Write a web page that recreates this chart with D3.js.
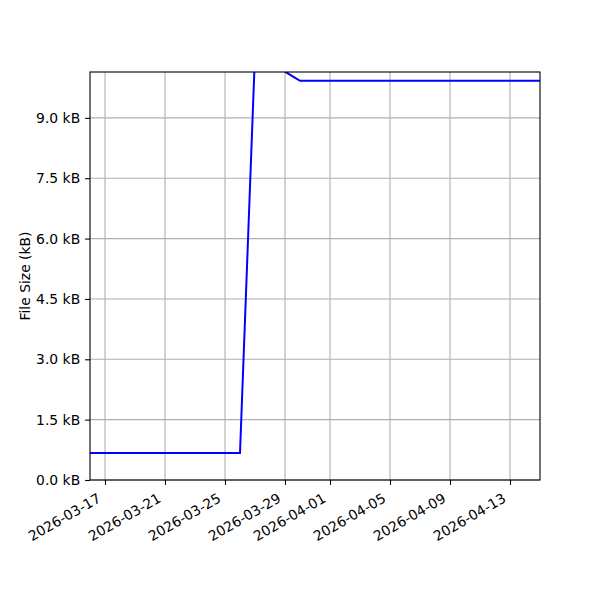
<!DOCTYPE html>
<html>
<head>
<meta charset="utf-8">
<script src="https://cdn.jsdelivr.net/npm/d3@7"></script>
<style>
  body { margin: 0; background: #fff; }
  svg, svg text { font-family: "DejaVu Sans", sans-serif; }
  .grid line { stroke: #b0b0b0; stroke-width: 1.1; }
</style>
</head>
<body>
<div id="chart"></div>
<script>
// data (kB per day)
var dates = ["2026-03-16","2026-03-17","2026-03-18","2026-03-19","2026-03-20","2026-03-21",
  "2026-03-22","2026-03-23","2026-03-24","2026-03-25","2026-03-26","2026-03-27","2026-03-28",
  "2026-03-29","2026-03-30","2026-03-31","2026-04-01","2026-04-02","2026-04-03","2026-04-04",
  "2026-04-05","2026-04-06","2026-04-07","2026-04-08","2026-04-09","2026-04-10","2026-04-11",
  "2026-04-12","2026-04-13","2026-04-14","2026-04-15"];
var sizes = [0.67,0.67,0.67,0.67,0.67,0.67,0.67,0.67,0.67,0.67,0.67,10.6,10.5,
  10.15,9.92,9.92,9.92,9.92,9.92,9.92,9.92,9.92,9.92,9.92,9.92,9.92,9.92,9.92,9.92,9.92,9.92];
var xTicks = ["2026-03-17","2026-03-21","2026-03-25","2026-03-29","2026-04-01","2026-04-05","2026-04-09","2026-04-13"];
var yTicks = [0, 1.5, 3.0, 4.5, 6.0, 7.5, 9.0];

var width = 600, height = 600;
var margin = {top: 72, right: 60, bottom: 120, left: 90};
var fontSize = 13.9;
var parse = d3.utcParse("%Y-%m-%d");

var points = dates.map(function(d, i) { return {date: parse(d), value: sizes[i]}; });

var svg = d3.select("#chart").append("svg")
  .attr("width", width)
  .attr("height", height);

var x = d3.scaleUtc()
  .domain([parse("2026-03-16"), parse("2026-04-15")])
  .range([margin.left, width - margin.right]);
var y = d3.scaleLinear()
  .domain([0, 10.14])
  .range([height - margin.bottom, margin.top]);

svg.append("defs").append("clipPath").attr("id", "clip")
  .append("rect")
  .attr("x", margin.left).attr("y", margin.top)
  .attr("width", width - margin.left - margin.right)
  .attr("height", height - margin.top - margin.bottom);

// grid
var grid = svg.append("g").attr("class", "grid");
grid.selectAll(".gx").data(xTicks).enter().append("line")
  .attr("x1", d => x(parse(d))).attr("x2", d => x(parse(d)))
  .attr("y1", margin.top).attr("y2", height - margin.bottom);
grid.selectAll(".gy").data(yTicks).enter().append("line")
  .attr("x1", margin.left).attr("x2", width - margin.right)
  .attr("y1", d => y(d)).attr("y2", d => y(d));

// line
var line = d3.line().x(d => x(d.date)).y(d => y(d.value));
svg.append("path")
  .datum(points)
  .attr("clip-path", "url(#clip)")
  .attr("fill", "none")
  .attr("stroke", "#0000ff")
  .attr("stroke-width", 2)
  .attr("d", line);

// axes
var xAxis = svg.append("g")
  .attr("transform", "translate(0," + (height - margin.bottom) + ")")
  .call(d3.axisBottom(x).tickValues(xTicks.map(parse)).tickFormat(d3.utcFormat("%Y-%m-%d")).tickSizeOuter(0).tickSize(4.9).tickPadding(4.9));
// matplotlib-style: rotated 30 degrees, right edge of the box under the tick
xAxis.selectAll("text")
  .attr("text-anchor", "end")
  .attr("dy", "-0.24em")
  .attr("y", 0)
  .attr("transform", "translate(-2,24) rotate(-30)");

var yAxis = svg.append("g")
  .attr("transform", "translate(" + margin.left + ",0)")
  .call(d3.axisLeft(y).tickValues(yTicks).tickFormat(d => d3.format(".1f")(d) + " kB").tickSizeOuter(0).tickSize(4.9).tickPadding(4.9));

[xAxis, yAxis].forEach(function(a) {
  a.attr("font-family", "DejaVu Sans").attr("font-size", fontSize);
  a.select(".domain").remove();
  a.selectAll(".tick line").attr("stroke", "#000").attr("stroke-width", 1.1);
  a.selectAll(".tick text").attr("fill", "#000");
});

// frame
svg.append("rect")
  .attr("x", margin.left).attr("y", margin.top)
  .attr("width", width - margin.left - margin.right)
  .attr("height", height - margin.top - margin.bottom)
  .attr("fill", "none").attr("stroke", "#000").attr("stroke-width", 1.1);

svg.append("text")
  .attr("transform", "translate(30," + ((margin.top + height - margin.bottom) / 2) + ") rotate(-90)")
  .attr("text-anchor", "middle")
  .attr("font-size", fontSize)
  .text("File Size (kB)");
</script>
</body>
</html>
